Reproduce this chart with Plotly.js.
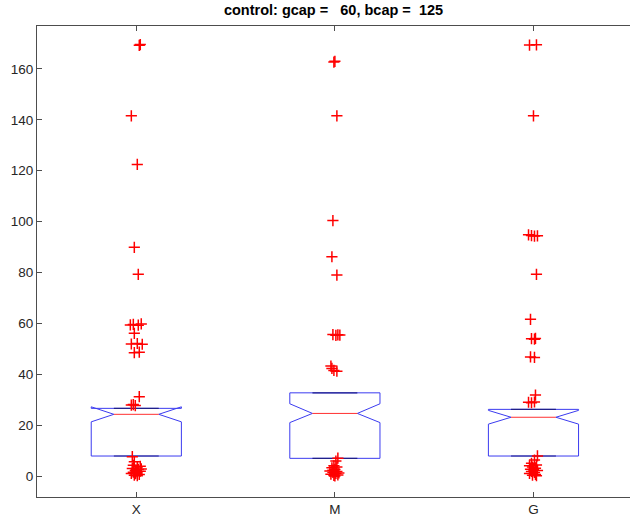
<!DOCTYPE html>
<html>
<head>
<meta charset="utf-8">
<script src="https://cdn.plot.ly/plotly-3.0.1.min.js"></script>
<style>html,body{margin:0;padding:0;background:#fff;}#chart{width:630px;height:517px;}</style>
</head>
<body>
<div id="chart"></div>
<script>
// ---- data ----
const categories = ['X', 'M', 'G'];
const q1 = [7.86, 6.95, 7.86];
const medians = [24.25, 24.6, 23.1];
const q3 = [26.6, 32.7, 26.2];
const notchLo = [21.3, 21.0, 20.4];
const notchHi = [27.2, 28.4, 25.8];
const lowerAdjacent = [7.86, 6.95, 7.86];
const upperAdjacent = [26.6, 32.7, 26.2];

// outliers (values) and their horizontal jitter (category units)
const outliersX = [169.3, 169.6, 141.6, 122.5, 89.9, 79.3, 59.4, 59.6, 59.3, 59.8, 56.1, 51.9, 52.1, 51.8, 48.5, 48.7, 31.2, 27.9, 28.1, 27.7,
  7.6, 5.6, 4.2, 3.5, 3.0, 2.6, 2.2, 1.9, 1.5, 1.2, 0.9, 0.6, 0.3, 0.1, 2.8, 1.0, 3.8, 2.0];
const jitterX = [0.015, 0.02, -0.025, 0.005, -0.01, 0.01, -0.03, -0.015, 0.01, 0.025, -0.01, -0.025, 0.005, 0.03, -0.01, 0.015, 0.015, -0.025, -0.015, -0.005,
  -0.02, -0.01, -0.015, 0.005, -0.02, 0.01, -0.005, 0.02, -0.015, 0.005, -0.005, 0.015, -0.01, 0.005, 0.025, -0.025, 0.02, 0.0];

const outliersM = [162.7, 163.0, 141.6, 100.4, 86.2, 79.0, 55.6, 55.3, 55.5, 55.4, 43.2, 42.3, 41.5, 41.2,
  7.0, 5.9, 4.0, 3.2, 2.6, 2.0, 1.8, 1.4, 1.0, 0.7, 0.4, 0.2, 1.2, 2.3, 0.0, 3.5];
const jitterM = [-0.005, 0.0, 0.01, -0.01, -0.015, 0.01, -0.01, 0.005, 0.015, 0.025, -0.02, -0.015, -0.005, 0.01,
  0.015, 0.005, -0.005, -0.015, 0.0, -0.025, 0.01, -0.01, 0.005, -0.02, 0.015, -0.005, 0.02, -0.01, 0.0, 0.01];

const outliersG = [169.4, 169.5, 141.6, 94.8, 94.5, 94.3, 94.4, 79.3, 61.6, 54.0, 53.8, 54.1, 46.8, 46.6, 31.8, 29.0, 28.8, 29.1,
  7.9, 6.3, 4.0, 3.5, 3.1, 2.7, 2.2, 1.8, 1.4, 1.0, 0.6, 0.3, 0.1, 2.5, 4.3, 5.0];
const jitterG = [-0.02, 0.015, 0.0, -0.025, -0.01, 0.005, 0.02, 0.015, -0.015, -0.01, 0.005, 0.01, -0.015, 0.005, 0.01, -0.025, -0.01, 0.005,
  0.02, 0.005, -0.02, -0.005, 0.01, -0.015, 0.02, -0.01, 0.005, -0.02, 0.01, -0.005, 0.015, 0.0, 0.015, -0.01];

const outlierSets = [outliersX, outliersM, outliersG];
const jitterSets = [jitterX, jitterM, jitterG];

// ---- drawing ----
const halfW = 0.227;   // box half-width (category units)
const notchW = 0.113;  // notch inner half-width
const traces = [];

categories.forEach((c, i) => {
  const x0 = i + 1;
  const L = x0 - halfW, R = x0 + halfW, iL = x0 - notchW, iR = x0 + notchW;
  traces.push({
    type: 'scatter', mode: 'lines', hoverinfo: 'skip', showlegend: false,
    x: [L, L, iL, L, L, R, R, iR, R, R, L],
    y: [q1[i], notchLo[i], medians[i], notchHi[i], q3[i], q3[i], notchHi[i], medians[i], notchLo[i], q1[i], q1[i]],
    line: {color: '#3b3bf0', width: 1}
  });
  traces.push({
    type: 'scatter', mode: 'lines', hoverinfo: 'skip', showlegend: false,
    x: [iL, iR, null, iL, iR],
    y: [upperAdjacent[i], upperAdjacent[i], null, lowerAdjacent[i], lowerAdjacent[i]],
    line: {color: '#20208a', width: 1.2}
  });
  traces.push({
    type: 'scatter', mode: 'lines', hoverinfo: 'skip', showlegend: false,
    x: [iL, iR], y: [medians[i], medians[i]],
    line: {color: '#ff3030', width: 1}
  });
  traces.push({
    type: 'scatter', mode: 'markers', showlegend: false,
    x: outlierSets[i].map((v, k) => x0 + jitterSets[i][k]),
    y: outlierSets[i],
    marker: {symbol: 'cross-thin', size: 8, color: '#ff0000', line: {color: '#ff0000', width: 1.5}}
  });
});

const layout = {
  width: 630, height: 517,
  margin: {l: 37, r: 0, t: 26, b: 20},
  paper_bgcolor: '#ffffff', plot_bgcolor: '#ffffff',
  font: {family: '"Liberation Sans", Arial, Helvetica, sans-serif', size: 13.5, color: '#262626'},
  title: {
    text: '<b>control: gcap =\u00A0\u00A0\u00A060, bcap =\u00A0\u00A0125</b>',
    font: {size: 14.5, color: '#000000'},
    x: 0.5, xref: 'paper', y: 0.99, yref: 'container', yanchor: 'top'
  },
  xaxis: {
    range: [0.5, 3.486],
    tickvals: [1, 2, 3], ticktext: categories,
    ticks: 'inside', ticklen: 5, tickcolor: '#4d4d4d', tickwidth: 1,
    showline: true, linecolor: '#4d4d4d', linewidth: 1, mirror: 'ticks',
    showgrid: false, zeroline: false
  },
  yaxis: {
    range: [-8.25, 176.9],
    tickvals: [0, 20, 40, 60, 80, 100, 120, 140, 160],
    ticks: 'inside', ticklen: 5, tickcolor: '#4d4d4d', tickwidth: 1,
    showline: true, linecolor: '#4d4d4d', linewidth: 1,
    showgrid: false, zeroline: false
  }
};

Plotly.newPlot('chart', traces, layout, {displayModeBar: false, staticPlot: true});
</script>
</body>
</html>
